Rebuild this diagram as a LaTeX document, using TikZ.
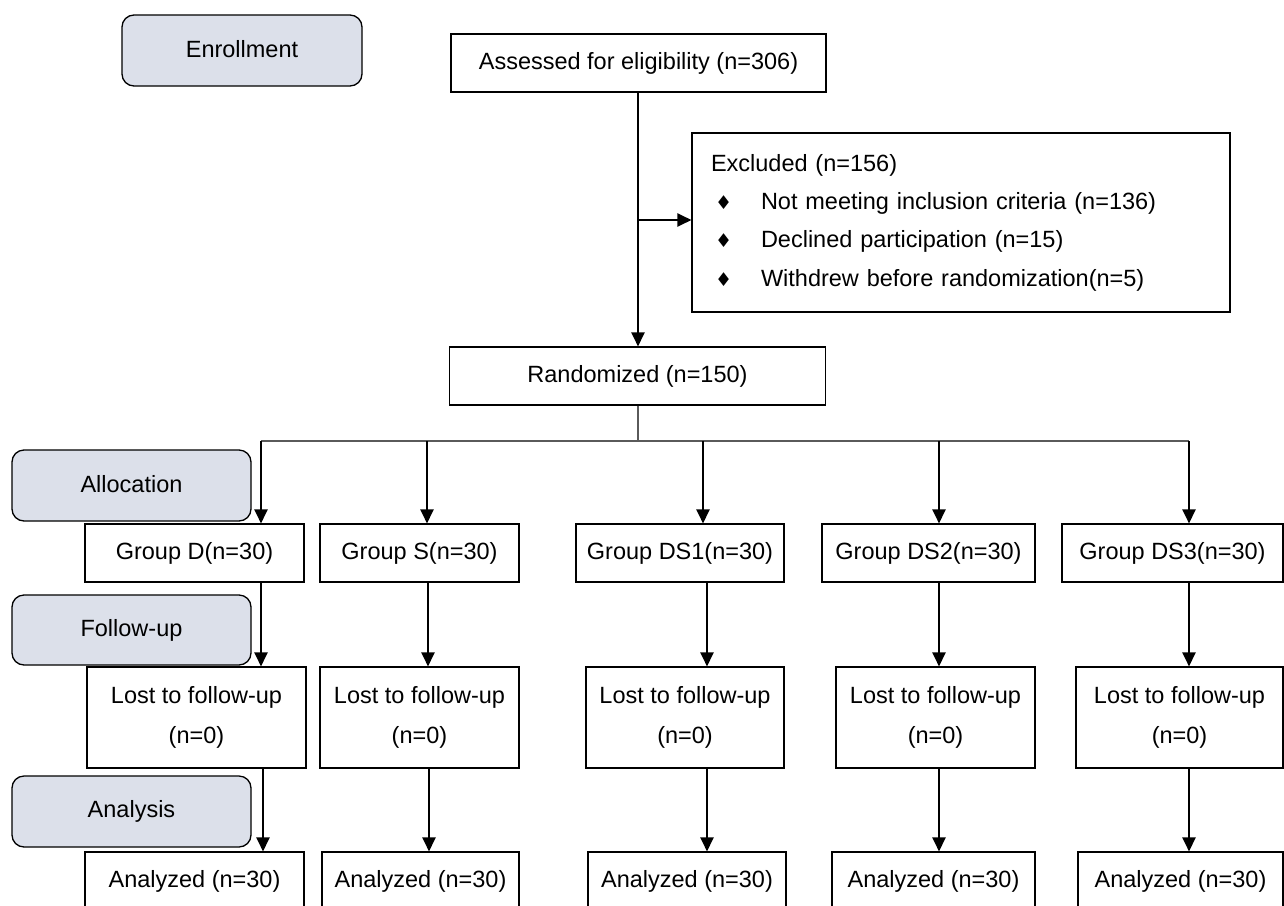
\documentclass[tikz,border=0pt]{standalone}
\usepackage{fontspec}
\setmainfont{Liberation Sans}
\newfontfamily\dejavu{DejaVu Sans}
\usetikzlibrary{arrows.meta}
\definecolor{stagefill}{RGB}{220,224,234}
\definecolor{distline}{RGB}{90,90,90}
\tikzset{
  basefont/.style={font=\fontsize{23.5}{28}\selectfont},
  stagebox/.style={draw=black, line width=1.3pt, rounded corners=12pt, fill=stagefill, inner sep=0pt, basefont, minimum width=239pt, minimum height=71pt},
  plainbox/.style={draw=black, line width=1.1pt, inner sep=0pt, basefont, minimum height=58pt},
  lostbox/.style={draw=black, line width=1.1pt, inner sep=0pt, font=\fontsize{23.5}{40}\selectfont, align=center, minimum height=101pt},
  arr/.style={draw=black, line width=2.2pt, -{Triangle[length=14pt,width=13pt]}},
  dist/.style={draw=distline, line width=1.2pt},
}
\newcommand{\bul}{\makebox[50pt][l]{\hspace{4pt}{\dejavu\fontsize{19}{19}\selectfont ♦}}}
\newcommand{\up}[1]{\raisebox{3pt}{#1}}
\begin{document}
\begin{tikzpicture}[x=1pt,y=-1pt]
\useasboundingbox (0,0) rectangle (1284,905);
\fill[white] (0,0) rectangle (1284,905);

% stage labels
\node[stagebox, minimum width=240pt] (enr) at (242,50.5) {\up{Enrollment}};
\node[stagebox] (alloc) at (131.5,485.5) {\up{Allocation}};
\node[stagebox, minimum height=70pt] (fup) at (131.5,630) {\up{Follow-up}};
\node[stagebox] (anal) at (131.5,811.5) {\up{Analysis}};

% main flow
\node[plainbox, minimum width=375pt] (assess) at (638.5,63) {Assessed for eligibility (n=306)};
\node[plainbox, minimum width=376pt] (rand) at (637.5,376) {Randomized (n=150)};
\node[draw=black, line width=1.1pt, inner sep=0pt, minimum width=538pt, minimum height=179pt, text width=500pt, align=left, font=\fontsize{23.5}{38.3}\selectfont] (excl) at (961,222.5)
  {Excluded (n=156)\\
   \bul Not meeting inclusion criteria (n=136)\\
   \bul Declined participation (n=15)\\
   \bul Withdrew before randomization(n=5)};

% groups
\node[plainbox, minimum width=219pt] (gD) at (194.5,553) {Group D(n=30)};
\node[plainbox, minimum width=199pt] (gS) at (419.5,553) {Group S(n=30)};
\node[plainbox, minimum width=208pt] (gA) at (680,553) {Group DS1(n=30)};
\node[plainbox, minimum width=213pt] (gB) at (928.5,553) {Group DS2(n=30)};
\node[plainbox, minimum width=221pt] (gC) at (1172.5,553) {Group DS3(n=30)};

% lost
\node[lostbox, minimum width=219pt] (lD) at (196.5,717.5) {Lost to follow-up\\(n=0)};
\node[lostbox, minimum width=199pt] (lS) at (419.5,717.5) {Lost to follow-up\\(n=0)};
\node[lostbox, minimum width=198pt] (lA) at (685,717.5) {Lost to follow-up\\(n=0)};
\node[lostbox, minimum width=199pt] (lB) at (935.5,717.5) {Lost to follow-up\\(n=0)};
\node[lostbox, minimum width=207pt] (lC) at (1179.5,717.5) {Lost to follow-up\\(n=0)};

% analyzed
\node[plainbox, minimum width=219pt] (aD) at (194.5,881) {Analyzed (n=30)};
\node[plainbox, minimum width=197pt] (aS) at (420.5,881) {Analyzed (n=30)};
\node[plainbox, minimum width=198pt] (aA) at (687,881) {Analyzed (n=30)};
\node[plainbox, minimum width=203pt] (aB) at (933.5,881) {Analyzed (n=30)};
\node[plainbox, minimum width=205pt] (aC) at (1180.5,881) {Analyzed (n=30)};

% coordinates
\coordinate (br) at (638,220);
\coordinate (h0) at (638,441);
\coordinate (c1) at (261,441);
\coordinate (c2) at (427,441);
\coordinate (c3) at (703,441);
\coordinate (c4) at (939,441);
\coordinate (c5) at (1189,441);
\coordinate (m1) at (261,0);
\coordinate (m2) at (428,0);
\coordinate (m3) at (707,0);
\coordinate (m4) at (939,0);
\coordinate (m5) at (1189,0);
\coordinate (n1) at (263,0);
\coordinate (n2) at (429,0);
\coordinate (n3) at (707,0);
\coordinate (n4) at (939,0);
\coordinate (n5) at (1189,0);

% connectors
\draw[arr] (assess.south -| br) -- (rand.north -| br);
\draw[arr] (br) -- (excl.west |- br);
\draw[dist] (rand.south -| h0) -- (h0);
\draw[dist] (c1) -- (c5);
\draw[arr] (c1) -- (gD.north -| c1);
\draw[arr] (c2) -- (gS.north -| c2);
\draw[arr] (c3) -- (gA.north -| c3);
\draw[arr] (c4) -- (gB.north -| c4);
\draw[arr] (c5) -- (gC.north -| c5);

\draw[arr] (gD.south -| m1) -- (lD.north -| m1);
\draw[arr] (gS.south -| m2) -- (lS.north -| m2);
\draw[arr] (gA.south -| m3) -- (lA.north -| m3);
\draw[arr] (gB.south -| m4) -- (lB.north -| m4);
\draw[arr] (gC.south -| m5) -- (lC.north -| m5);

\draw[arr] (lD.south -| n1) -- (aD.north -| n1);
\draw[arr] (lS.south -| n2) -- (aS.north -| n2);
\draw[arr] (lA.south -| n3) -- (aA.north -| n3);
\draw[arr] (lB.south -| n4) -- (aB.north -| n4);
\draw[arr] (lC.south -| n5) -- (aC.north -| n5);
\end{tikzpicture}
\end{document}
